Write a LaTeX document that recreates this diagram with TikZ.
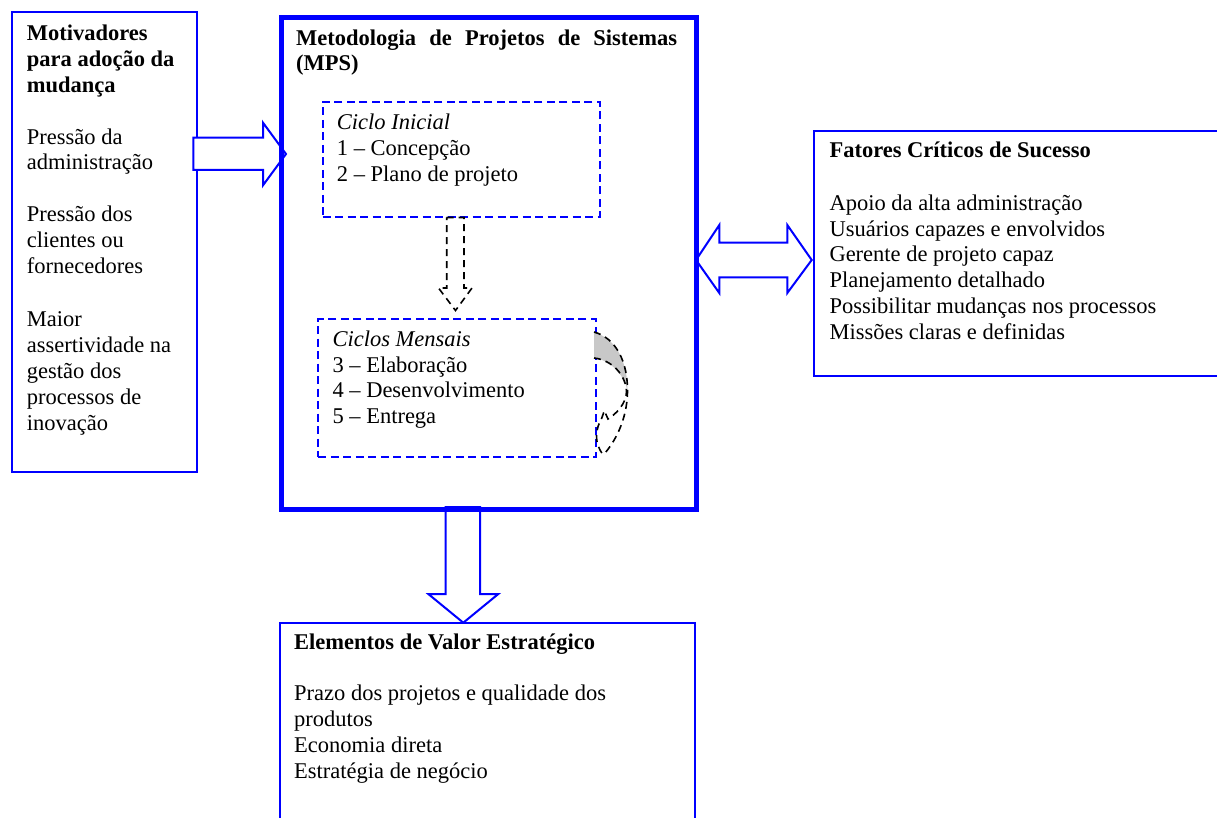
\documentclass[tikz,border=0pt]{standalone}
\usepackage{fontspec}
\setmainfont{Liberation Serif}
\definecolor{wblue}{RGB}{0,0,255}
\definecolor{bandgray}{RGB}{200,200,200}
\tikzset{
  box/.style={draw=wblue, line width=2pt, rectangle, inner sep=0pt, anchor=north west},
  mpsbox/.style={draw=wblue, line width=5pt, rectangle, inner sep=0pt, anchor=north west},
  dbox/.style={draw=wblue, line width=2pt, dash pattern=on 8pt off 4.5pt, rectangle, inner sep=0pt, anchor=north west},
  txt/.style={anchor=north west, inner sep=0pt, align=left, font=\fontsize{22.5}{25.8}\selectfont},
  blockarrow/.style={draw=wblue, line width=2pt, fill=white, line join=miter},
  dasharrow/.style={draw=black, line width=1.6pt, dash pattern=on 7pt off 5pt, line join=miter},
}
\begin{document}
\begin{tikzpicture}[x=1pt, y=-1pt]
\useasboundingbox (0,0) rectangle (1217,818);

% left box
\node[box, minimum width=185pt, minimum height=460pt] (left) at (11,11) {};
\node[txt] (ltitle) at (26.7,22.64) {\strut\bfseries Motivadores\\\bfseries para adoção da\\\bfseries mudança};
\node[txt] (l1) at (26.7,125.94) {\strut Pressão da\\administração};
\node[txt] (l2) at (26.7,203.64) {\strut Pressão dos\\clientes ou\\fornecedores};
\node[txt] (l3) at (26.7,308.64) {\strut Maior\\assertividade na\\gestão dos\\processos de\\inovação};

% block arrows
\draw[blockarrow] (193.3,137.7) -- (263,137.7) -- (263,122.7) -- (286,154) -- (263,185.3) -- (263,170) -- (193.3,170) -- cycle;
\draw[blockarrow] (696,260) -- (719.3,225) -- (719.3,242.7) -- (787.3,242.7) -- (787.3,225) -- (811.7,260) -- (787.3,293) -- (787.3,277.3) -- (719.3,277.3) -- (719.3,293) -- cycle;
\draw[blockarrow] (445.7,507) -- (480,507) -- (480,594) -- (498.3,594) -- (463.3,622.7) -- (428.3,594) -- (445.7,594) -- cycle;

% MPS box
\node[mpsbox, minimum width=415pt, minimum height=491.5pt] (mps) at (279.2,15.5) {};
\node[txt] (mpstitle) at (296,26.94) {\strut\makebox[381pt][s]{\bfseries Metodologia de Projetos de Sistemas}\\\bfseries (MPS)};

% inner dashed boxes
\node[dbox, minimum width=277.3pt, minimum height=115pt] (ini) at (321.7,101) {};
\node[txt] (initxt) at (336.7,111.24) {\strut\textit{Ciclo Inicial}\\1 – Concepção\\2 – Plano de projeto};
\node[dbox, minimum width=277.7pt, minimum height=137.7pt] (men) at (317.3,318.3) {};
\node[txt] (mentxt) at (332.3,327.94) {\strut\textit{Ciclos Mensais}\\3 – Elaboração\\4 – Desenvolvimento\\5 – Entrega};

% dashed down arrow
\draw[dasharrow] (446.7,217.5) -- (464,217.5) -- (464,288) -- (472,288) -- (455.5,310.5) -- (438.5,288) -- (446.7,288) -- cycle;

% curved dashed arrow
\fill[bandgray] (594,332.5) .. controls (616,338) and (628,362) .. (627.5,392)
  .. controls (626,378) and (612,360) .. (594,358) -- cycle;
\draw[dasharrow] (594,332) .. controls (616,338) and (628,362) .. (627.5,392)
  .. controls (627,420) and (615,442) .. (603.3,455);
\draw[dasharrow] (594,358) .. controls (612,360) and (626,375) .. (626.5,392)
  .. controls (626,404) and (616,414) .. (608,419) -- (604.3,410.7) -- (601.7,418.3)
  .. controls (596,428) and (593,442) .. (603.3,455);

% right box
\node[box, minimum width=411.7pt, minimum height=245pt] (right) at (813.3,130) {};
\node[txt] (rtitle) at (829.3,139.24) {\strut\bfseries Fatores Críticos de Sucesso};
\node[txt] (ritems) at (829.3,191.94) {\strut Apoio da alta administração\\Usuários capazes e envolvidos\\Gerente de projeto capaz\\Planejamento detalhado\\Possibilitar mudanças nos processos\\Missões claras e definidas};

% bottom box
\node[box, minimum width=415.3pt, minimum height=210pt] (bottom) at (279,621.7) {};
\node[txt] (btitle) at (294,631.24) {\strut\bfseries Elementos de Valor Estratégico};
\node[txt] (bitems) at (294,682.64) {\strut Prazo dos projetos e qualidade dos\\produtos\\Economia direta\\Estratégia de negócio};
\end{tikzpicture}
\end{document}
